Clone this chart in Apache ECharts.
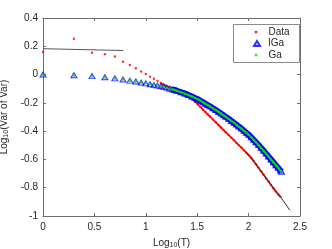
<!DOCTYPE html>
<html>
<head>
<meta charset="utf-8">
<script src="https://cdn.jsdelivr.net/npm/echarts@6/dist/echarts.min.js"></script>
<style>html,body{margin:0;padding:0;background:#fff}#c{width:332px;height:249px}</style>
</head>
<body>
<div id="c"></div>
<script>
// lag values T (x axis shows log10(T))
var T = [1,2,3,4,5,6,7,8,9,10,11,12,13,14,15,16,17,18,19,20,22,24,26,28,30,32,34,36,38,40,42,45,48,51,54,57,60,64,68,72,76,80,85,90,95,100,106,112,118,125,132,140,148,156,165,174,184,194,204,209];
// Data (red dots), log10(Var of Var)
var dataVals = [0.16,0.254,0.155,0.143,0.127,0.09,0.068,0.044,0.022,0.004,-0.015,-0.03,-0.045,-0.06,-0.072,-0.082,-0.09,-0.098,-0.106,-0.113,-0.124,-0.135,-0.148,-0.166,-0.19,-0.21,-0.229,-0.248,-0.265,-0.281,-0.296,-0.318,-0.338,-0.357,-0.375,-0.392,-0.407,-0.427,-0.447,-0.464,-0.482,-0.498,-0.516,-0.535,-0.552,-0.568,-0.588,-0.611,-0.634,-0.659,-0.684,-0.709,-0.733,-0.756,-0.78,-0.803,-0.826,-0.847,-0.864];
// IGa and Ga model values (identical curves)
var igaVals = [0,-0.005,-0.011,-0.019,-0.027,-0.035,-0.043,-0.049,-0.056,-0.062,-0.068,-0.073,-0.078,-0.083,-0.087,-0.092,-0.098,-0.104,-0.109,-0.114,-0.125,-0.135,-0.145,-0.155,-0.165,-0.174,-0.185,-0.196,-0.206,-0.216,-0.225,-0.239,-0.251,-0.264,-0.276,-0.288,-0.299,-0.313,-0.328,-0.341,-0.354,-0.367,-0.382,-0.397,-0.412,-0.425,-0.444,-0.462,-0.479,-0.498,-0.518,-0.539,-0.559,-0.579,-0.6,-0.62,-0.641,-0.66,-0.679,-0.687];
var gaVals = igaVals.slice();
// black reference lines [log10(T), value]
var fitShort = [[0,0.183],[0.78,0.17]];
var fitTail = [[1.97,-0.55],[2.05,-0.615],[2.15,-0.712],[2.25,-0.808],[2.31,-0.864],[2.4,-0.958]];

function pts(vals){ var o=[]; for(var i=0;i<vals.length;i++){ o.push([Math.log10(T[i]), vals[i]]); } return o; }
var dataPts = pts(dataVals);
var dataLine = dataPts.slice(13);
var igaPts = pts(igaVals);
var gaPts = pts(gaVals);
var denseFrom = 17; // index where markers overlap into a continuous band

var FONT = 'Liberation Sans, Arial, Helvetica, sans-serif';
var axisCol = '#6e6e6e';
var txtCol = '#262626';
function fmt(v){ return String(Math.round(v*10)/10); }

var legText = {fontFamily:FONT, fontSize:10, color:txtCol, lineHeight:11};
function leg(name, top, w, h, padL){
  return {orient:'vertical', left:256 - w/2, top:top, padding:0, itemGap:0,
    itemWidth:w, itemHeight:h, selectedMode:false, z:20,
    textStyle:Object.assign({padding:[0,0,0,padL]}, legText), data:[name]};
}

var chart = echarts.init(document.getElementById('c'), null, {renderer:'canvas'});
chart.setOption({
  animation:false,
  backgroundColor:'#fff',
  grid:{left:43, right:32, top:18, bottom:33, outerBoundsMode:'none', containLabel:false},
  graphic:[{type:'rect', left:233, top:24, z:1, shape:{width:66, height:38},
    style:{fill:'#fff', stroke:'#8a8a8a', lineWidth:1}}],
  legend:[leg('Data', 26.5, 3, 3, 6), leg('IGa', 38, 6, 5, 3), leg('Ga', 49.5, 3, 3, 6)],
  xAxis:[{
    type:'value', min:0, max:2.5, interval:0.5, position:'bottom',
    axisLine:{show:true, onZero:false, lineStyle:{color:axisCol, width:1}},
    axisTick:{show:true, inside:true, length:3, lineStyle:{color:axisCol}},
    axisLabel:{margin:6, fontFamily:FONT, fontSize:10, color:txtCol, formatter:fmt},
    splitLine:{show:false},
    name:'Log{sub|10}(T)', nameLocation:'middle', nameGap:19,
    nameTextStyle:{fontFamily:FONT, fontSize:10, color:txtCol, lineHeight:12,
      rich:{sub:{fontFamily:FONT, fontSize:7, color:txtCol, lineHeight:12, verticalAlign:'bottom', padding:[5,0,0,0]}}}
  },{
    type:'value', min:0, max:2.5, interval:0.5, position:'top',
    axisLine:{show:true, onZero:false, lineStyle:{color:axisCol, width:1}},
    axisTick:{show:true, inside:true, length:3, lineStyle:{color:axisCol}},
    axisLabel:{show:false}, splitLine:{show:false}
  }],
  yAxis:[{
    type:'value', min:-1, max:0.4, interval:0.2, position:'left',
    axisLine:{show:true, onZero:false, lineStyle:{color:axisCol, width:1}},
    axisTick:{show:true, inside:true, length:3, lineStyle:{color:axisCol}},
    axisLabel:{margin:5, fontFamily:FONT, fontSize:10, color:txtCol, formatter:fmt},
    splitLine:{show:false},
    name:'Log{sub|10}(Var of Var)', nameLocation:'middle', nameGap:27, nameRotate:90,
    nameTextStyle:{fontFamily:FONT, fontSize:10, color:txtCol, lineHeight:12,
      rich:{sub:{fontFamily:FONT, fontSize:7, color:txtCol, lineHeight:12, verticalAlign:'bottom', padding:[5,0,0,0]}}}
  },{
    type:'value', min:-1, max:0.4, interval:0.2, position:'right',
    axisLine:{show:true, onZero:false, lineStyle:{color:axisCol, width:1}},
    axisTick:{show:true, inside:true, length:3, lineStyle:{color:axisCol}},
    axisLabel:{show:false}, splitLine:{show:false}
  }],
  series:[
    {name:'Data', type:'scatter', data:dataPts, symbol:'circle', symbolSize:2.5,
     itemStyle:{color:'#ff0000'}, z:2},
    {name:'DataLine', type:'line', data:dataLine, showSymbol:false, symbol:'none',
     lineStyle:{color:'#ff0000', width:1.6}, z:2, silent:true},
    {name:'IGa', type:'scatter', data:igaPts, symbol:'triangle', symbolSize:[6,5],
     itemStyle:{color:'rgba(0,0,255,0.15)', borderColor:'#0000ff', borderWidth:1}, z:3},
    {name:'IGaBand', type:'line', data:igaPts.slice(denseFrom), showSymbol:false, symbol:'none',
     lineStyle:{color:'#0000ff', width:6}, z:3, silent:true},
    {name:'GaLine', type:'line', data:gaPts.slice(denseFrom), showSymbol:false, symbol:'none',
     lineStyle:{color:'#00e000', width:2}, z:4, silent:true},
    {name:'Ga', type:'scatter', data:gaPts, symbol:'circle', symbolSize:2.5,
     itemStyle:{color:'#00e000'}, z:4},
    {name:'fit1', type:'line', data:fitShort, symbol:'none', lineStyle:{color:'#555', width:1}, z:5, silent:true},
    {name:'fit2', type:'line', data:fitTail, symbol:'none', lineStyle:{color:'#333', width:1}, z:5, silent:true}
  ]
});
</script>
</body>
</html>
